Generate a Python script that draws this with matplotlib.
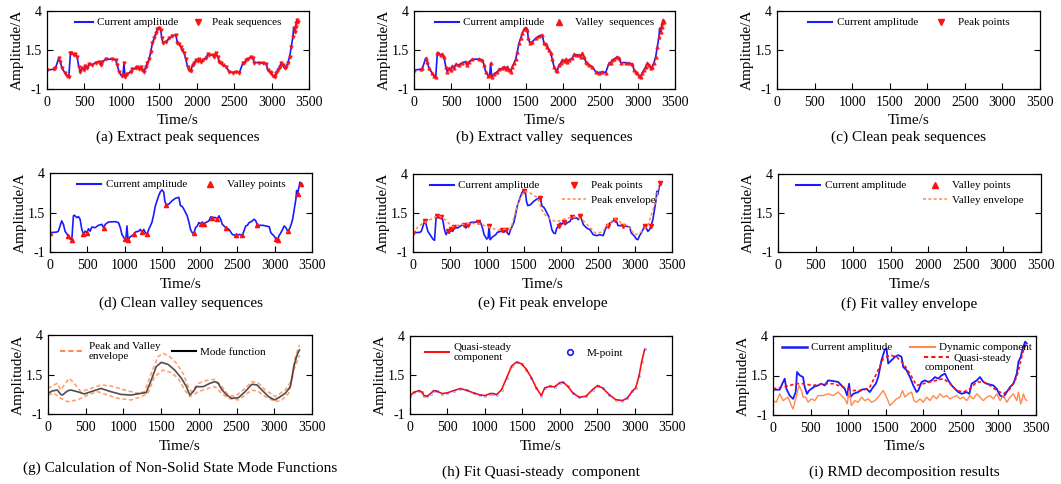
import matplotlib
matplotlib.use('Agg')
from matplotlib import pyplot as plt
from matplotlib.lines import Line2D

plt.rcParams['font.family'] = ['Liberation Serif', 'DejaVu Serif']

# ---- data ----
# current amplitude (panels a-e)
t_cur = [0, 89, 112, 156, 179, 201, 246, 268, 291, 313, 326, 358, 380, 402, 425, 447, 469, 492,
         514, 536, 559, 603, 648, 693, 715, 738, 782, 872, 916, 939, 961, 997, 1015, 1028, 1042,
         1073, 1118, 1140, 1185, 1207, 1229, 1252, 1274, 1296, 1319, 1341, 1363, 1386, 1408, 1430,
         1453, 1475, 1497, 1520, 1533, 1551, 1587, 1632, 1676, 1721, 1743, 1766, 1788, 1810, 1833,
         1855, 1877, 1900, 1922, 1944, 1967, 1989, 2012, 2034, 2056, 2079, 2123, 2146, 2168, 2213,
         2235, 2257, 2280, 2302, 2324, 2347, 2391, 2436, 2481, 2526, 2570, 2615, 2637, 2660, 2682,
         2727, 2749, 2771, 2838, 2883, 2928, 2950, 2973, 2995, 3017, 3040, 3062, 3084, 3107, 3129,
         3151, 3174, 3196, 3218, 3241, 3263, 3285, 3294, 3308, 3321, 3330, 3339, 3353]
amp_cur = [0.22, 0.26, 0.32, 0.97, 0.75, 0.32, 0.00, -0.17, -0.25, 1.29, 1.33, 1.18, 1.24, 1.07,
           0.43, 0.11, 0.32, 0.22, 0.47, 0.32, 0.58, 0.54, 0.69, 0.75, 0.54, 0.75, 0.90, 0.92,
           0.86, 0.54, 0.11, -0.17, -0.10, 0.65, -0.21, -0.04, 0.11, 0.26, 0.32, 0.43, 0.26, 0.43,
           0.22, 0.11, 0.43, 0.65, 0.90, 1.39, 1.93, 2.25, 2.57, 2.82, 2.93, 2.78, 2.25, 1.97,
           2.03, 2.25, 2.40, 2.46, 1.93, 1.88, 1.71, 1.50, 1.29, 0.90, 0.43, 0.22, 0.18, 0.54,
           0.65, 0.86, 0.79, 0.90, 0.75, 0.86, 0.97, 1.22, 1.18, 1.18, 1.07, 1.29, 1.07, 0.75,
           0.65, 0.54, 0.43, 0.11, 0.05, 0.11, 0.05, 0.65, 0.69, 0.86, 0.90, 1.07, 0.97, 0.69,
           0.69, 0.65, 0.60, 0.22, 0.11, 0.00, -0.17, -0.21, 0.05, 0.22, 0.43, 0.65, 0.54, 0.32,
           0.43, 0.69, 1.07, 1.71, 2.35, 2.89, 2.68, 3.00, 3.21, 3.42, 3.32]

peak_t = [0, 156, 326, 380, 469, 514, 559, 693, 738, 872, 1028, 1207, 1252, 1497, 1721, 1967,
          2034, 2146, 2257, 2637, 2727, 2838, 3129, 3218, 3339]
peak_v = [0.22, 0.97, 1.33, 1.24, 0.32, 0.47, 0.58, 0.75, 0.75, 0.92, 0.65, 0.43, 0.43, 2.93,
          2.46, 0.65, 0.90, 1.22, 1.29, 0.69, 1.07, 0.69, 0.65, 0.69, 3.42]

valley_t = [0, 246, 291, 447, 492, 715, 997, 1042, 1118, 1229, 1296, 1551, 1922, 2012, 2056,
            2168, 2235, 2347, 2481, 2570, 2771, 3017, 3040, 3174, 3308, 3353]
valley_v = [0.22, 0.00, -0.25, 0.11, 0.22, 0.54, -0.17, -0.21, 0.11, 0.26, 0.11, 1.97, 0.18,
            0.79, 0.75, 1.18, 1.07, 0.54, 0.05, 0.05, 0.69, -0.17, -0.21, 0.32, 2.68, 3.32]

# peak envelope (e)
t_penv = [0, 66, 132, 220, 309, 353, 441, 529, 617, 750, 882, 1014, 1147, 1323, 1411, 1499, 1588,
          1676, 1764, 1852, 1940, 2073, 2205, 2293, 2381, 2470, 2558, 2646, 2734, 2822, 2911, 2999,
          3087, 3175, 3263, 3330]
v_penv = [0.19, 0.62, 0.83, 1.05, 1.26, 1.31, 1.05, 0.62, 0.72, 0.83, 0.83, 0.62, 0.40, 0.51,
          2.00, 2.90, 2.77, 2.50, 1.48, 1.10, 0.94, 1.16, 1.26, 1.05, 0.62, 0.19, 0.29, 0.83, 1.12,
          0.83, 0.62, 0.10, 0.30, 0.72, 2.00, 3.35]

# mode function and envelopes (g)
t_mode = [0, 58, 124, 169, 191, 258, 302, 391, 480, 569, 702, 836, 969, 1102, 1235, 1302, 1369,
          1435, 1502, 1591, 1680, 1769, 1835, 1880, 1924, 1969, 2058, 2146, 2213, 2258, 2302, 2369,
          2435, 2524, 2613, 2702, 2769, 2835, 2924, 3004, 3058, 3146, 3213, 3258, 3302, 3333]
v_mode = [0.31, 0.46, 0.52, 0.24, 0.20, 0.46, 0.52, 0.41, 0.27, 0.41, 0.62, 0.41, 0.24, 0.20,
          0.31, 0.35, 1.15, 2.00, 2.27, 2.14, 1.78, 1.26, 0.73, 0.20, 0.41, 0.73, 0.73, 0.94, 1.05,
          0.94, 0.56, 0.20, -0.01, 0.03, 0.41, 0.88, 0.84, 0.52, 0.10, -0.11, 0.03, 0.31, 0.73,
          2.00, 2.73, 3.05]
t_up = [0, 80, 124, 169, 280, 347, 436, 569, 702, 836, 1013, 1191, 1280, 1369, 1458, 1524, 1613,
        1702, 1791, 1858, 1902, 1991, 2124, 2213, 2302, 2391, 2480, 2613, 2702, 2791, 2880, 3013,
        3146, 3235, 3280, 3333]
v_up = [0.62, 0.84, 0.94, 0.52, 1.26, 0.94, 0.41, 0.62, 0.84, 0.77, 0.52, 0.31, 0.41, 1.57, 2.63,
        2.84, 2.63, 2.21, 1.57, 0.73, 0.41, 0.94, 1.15, 1.19, 0.73, 0.20, 0.10, 0.62, 1.05, 0.94,
        0.52, 0.10, 0.52, 1.15, 2.63, 3.37]
t_low = [0, 80, 169, 258, 391, 524, 658, 791, 924, 1102, 1235, 1324, 1413, 1524, 1635, 1724, 1813,
         1880, 1924, 1991, 2124, 2213, 2302, 2391, 2524, 2613, 2702, 2791, 2880, 3013, 3102, 3191,
         3258, 3302, 3333]
v_low = [0.20, 0.31, -0.01, -0.22, -0.11, 0.20, 0.41, 0.20, -0.01, -0.11, 0.10, 0.31, 1.36, 1.78,
         1.62, 1.26, 0.52, 0.10, 0.20, 0.41, 0.62, 0.73, 0.31, -0.01, -0.11, 0.20, 0.52, 0.41,
         0.10, -0.22, -0.11, 0.31, 1.78, 2.31, 2.73]

# quasi-steady component (h)
t_qs = [0, 53, 119, 164, 186, 230, 274, 318, 362, 429, 495, 583, 672, 760, 849, 937, 1003, 1070,
        1114, 1158, 1224, 1291, 1357, 1423, 1490, 1556, 1622, 1688, 1755, 1799, 1865, 1932, 1998,
        2042, 2108, 2175, 2263, 2351, 2440, 2506, 2572, 2661, 2749, 2838, 2904, 2970, 3014, 3059,
        3094, 3134]
v_qs = [0.18, 0.39, 0.50, 0.39, 0.18, 0.14, 0.31, 0.50, 0.46, 0.31, 0.35, 0.50, 0.63, 0.52, 0.35,
        0.22, 0.18, 0.31, 0.31, 0.24, 0.57, 1.32, 2.07, 2.33, 2.22, 1.85, 1.32, 0.67, 0.18, 0.67,
        0.78, 0.74, 1.00, 1.04, 0.78, 0.35, 0.07, 0.14, 0.57, 0.82, 0.67, 0.24, -0.08, -0.14, 0.03,
        0.46, 0.67, 1.42, 2.33, 3.14]

# decomposition result (i)
t_i = [0, 89, 124, 156, 178, 222, 267, 302, 320, 356, 400, 422, 453, 480, 511, 556, 600, 644, 689,
       733, 800, 867, 911, 955, 987, 1013, 1031, 1067, 1133, 1178, 1244, 1289, 1333, 1369, 1400,
       1444, 1489, 1511, 1533, 1578, 1622, 1667, 1711, 1733, 1778, 1822, 1867, 1911, 1933, 1978,
       2022, 2067, 2111, 2155, 2200, 2244, 2289, 2333, 2378, 2422, 2466, 2511, 2578, 2613, 2644,
       2711, 2755, 2800, 2844, 2933, 2977, 3022, 3066, 3111, 3155, 3200, 3244, 3266, 3297, 3324,
       3355, 3377]
amp_i = [0.60, 0.60, 0.98, 1.30, 0.66, 0.23, 0.02, 0.45, 1.72, 1.51, 1.40, 0.77, 0.34, 0.55, 0.66,
         0.81, 0.87, 0.98, 0.87, 1.19, 1.15, 1.09, 0.87, 0.66, 0.23, 0.98, 0.13, 0.34, 0.45, 0.60,
         0.66, 0.45, 0.77, 0.98, 1.40, 2.47, 3.15, 3.21, 2.26, 2.47, 2.68, 2.79, 2.68, 2.04, 1.83,
         1.40, 0.87, 0.45, 0.55, 1.09, 1.19, 1.09, 1.19, 1.40, 1.30, 1.51, 1.62, 1.19, 0.87, 0.66,
         0.45, 0.34, 0.45, 0.34, 0.98, 1.19, 1.40, 1.09, 0.98, 0.87, 0.66, 0.23, 0.13, 0.45, 0.77,
         0.98, 1.62, 2.36, 2.68, 3.21, 3.64, 3.53]
t_qs_i = [0, 133, 222, 311, 400, 533, 667, 800, 933, 1067, 1200, 1289, 1378, 1467, 1556, 1644,
          1733, 1822, 1911, 2000, 2089, 2178, 2267, 2356, 2444, 2533, 2622, 2711, 2800, 2889, 2978,
          3067, 3155, 3244, 3333, 3377]
v_qs_i = [0.66, 0.77, 0.87, 0.98, 0.98, 0.87, 0.98, 0.98, 0.77, 0.55, 0.55, 0.77, 1.62, 2.57, 2.79,
          2.68, 2.26, 1.62, 0.87, 0.98, 1.09, 1.19, 1.30, 0.98, 0.55, 0.45, 0.66, 1.09, 1.09, 0.87,
          0.55, 0.34, 0.66, 1.40, 3.11, 3.57]
t_dyn = [0, 44, 89, 133, 200, 244, 267, 302, 347, 378, 400, 436, 467, 511, 556, 600, 667, 733, 800,
         867, 911, 955, 987, 1013, 1044, 1089, 1133, 1178, 1222, 1267, 1311, 1356, 1400, 1467, 1511,
         1556, 1600, 1644, 1689, 1724, 1756, 1800, 1844, 1876, 1911, 1956, 2000, 2044, 2089, 2133,
         2178, 2222, 2267, 2311, 2356, 2400, 2444, 2489, 2533, 2578, 2622, 2667, 2711, 2755, 2800,
         2844, 2889, 2933, 2978, 3022, 3067, 3111, 3155, 3200, 3244, 3266, 3297, 3333, 3355, 3377]
v_dyn = [-0.09, -0.19, 0.34, -0.09, 0.13, -0.40, -0.62, 0.02, 0.87, 0.55, 0.13, 0.13, -0.19, 0.02,
         -0.09, 0.23, 0.23, 0.34, 0.23, 0.45, 0.23, 0.02, -0.30, 0.55, -0.40, -0.09, -0.19, 0.13,
         -0.09, 0.02, -0.19, -0.09, 0.13, 0.55, 0.13, -0.40, -0.19, 0.02, 0.13, 0.55, 0.13, 0.34,
         0.45, -0.09, -0.19, 0.02, -0.19, 0.13, -0.09, 0.23, 0.02, 0.34, 0.13, 0.23, 0.02, 0.13,
         0.23, 0.02, 0.13, -0.09, 0.23, 0.02, 0.34, 0.13, -0.09, 0.13, 0.23, 0.02, 0.34, -0.09,
         0.23, -0.19, 0.13, 0.34, -0.09, 0.45, -0.30, 0.34, 0.02, -0.09]

captions = ['(a) Extract peak sequences', '(b) Extract valley  sequences', '(c) Clean peak sequences',
            '(d) Clean valley sequences', '(e) Fit peak envelope', '(f) Fit valley envelope',
            '(g) Calculation of Non-Solid State Mode Functions', '(h) Fit Quasi-steady  component',
            '(i) RMD decomposition results']

BLUE = '#1a1aff'
RED = '#ff1010'
ORANGE = '#ff8a4c'

W, H = 1061, 484
fig = plt.figure(figsize=(W / 100, H / 100), dpi=100)

# axes boxes in pixels: left, top, right, bottom
boxes = [(47, 11, 309, 89), (414, 11, 675, 89), (777, 11, 1040, 89),
         (50, 173, 312, 252), (413, 174, 672, 252), (778, 174, 1041, 252),
         (48, 335, 312, 414), (410, 336, 672, 414), (773, 336, 1036, 415)]
cap_y = [137, 137, 137, 303, 303, 304, 468, 472, 472]

axs = []
for k, (l, t, r, b) in enumerate(boxes):
    ax = fig.add_axes([l / W, 1 - b / H, (r - l) / W, (b - t) / H])
    ax.set_xlim(0, 3500)
    ax.set_ylim(-1, 4)
    ax.set_xticks(range(0, 3501, 500))
    ax.set_yticks([-1, 1.5, 4])
    ax.set_yticklabels(['-1', '1.5', '4'])
    ax.tick_params(direction='in', right=True, length=4.5, width=0.8, labelsize=10)
    ax.tick_params(axis='x', pad=5)
    ax.set_xlabel('Time/s', fontsize=11, labelpad=4)
    ax.set_ylabel('Amplitude/A', fontsize=11, labelpad=1)
    for s in ax.spines.values():
        s.set_linewidth(0.9)
    fig.text((l + r) / 2 / W, 1 - cap_y[k] / H, captions[k], ha='center', va='center', fontsize=11)
    axs.append(ax)

leg_kw = dict(loc='upper center', frameon=False, fontsize=8, ncol=2, handlelength=2.2,
              columnspacing=1.0, borderaxespad=0.2, handletextpad=0.4, labelspacing=0.1)
blank = Line2D([], [], color='none', label=' ')

# (a)
ax = axs[0]
ax.plot(t_cur, amp_cur, color=BLUE, lw=1.2)
ax.plot(t_cur, amp_cur, color=RED, lw=0, marker='v', ms=2.2, alpha=0.85)
ax.legend([Line2D([], [], color=BLUE, lw=1.5), Line2D([], [], color=RED, lw=0, marker='v', ms=4)],
          ['Current amplitude', 'Peak sequences'], **dict(leg_kw, handlelength=1.6))

# (b)
ax = axs[1]
ax.plot(t_cur, amp_cur, color=BLUE, lw=1.2)
ax.plot(t_cur, amp_cur, color=RED, lw=0, marker='^', ms=2.2, alpha=0.8)
ax.legend([Line2D([], [], color=BLUE, lw=1.5), Line2D([], [], color=RED, lw=0, marker='^', ms=4)],
          ['Current amplitude', 'Valley  sequences'], **dict(leg_kw, columnspacing=0.3, handletextpad=0.3))

# (c)
ax = axs[2]
ax.legend([Line2D([], [], color=BLUE, lw=1.5), Line2D([], [], color=RED, lw=0, marker='v', ms=4)],
          ['Current amplitude', 'Peak points'], **leg_kw)

# (d)
ax = axs[3]
ax.plot(t_cur, amp_cur, color=BLUE, lw=1.2)
ax.plot(valley_t, valley_v, color=RED, lw=0, marker='^', ms=3)
ax.legend([Line2D([], [], color=BLUE, lw=1.5), Line2D([], [], color=RED, lw=0, marker='^', ms=4)],
          ['Current amplitude', 'Valley points'], **leg_kw)

# (e)
ax = axs[4]
ax.plot(t_cur, amp_cur, color=BLUE, lw=1.2)
ax.plot(peak_t, peak_v, color=RED, lw=0, marker='v', ms=3)
ax.plot(t_penv, v_penv, color=ORANGE, lw=1.1, ls=(0, (2, 1.5)))
ax.legend([Line2D([], [], color=BLUE, lw=1.5), blank,
           Line2D([], [], color=RED, lw=0, marker='v', ms=4),
           Line2D([], [], color=ORANGE, lw=1.1, ls=(0, (2, 1.5)))],
          ['Current amplitude', ' ', 'Peak points', 'Peak envelope'],
          **dict(leg_kw, labelspacing=0.45, columnspacing=2.0))

# (f)
ax = axs[5]
ax.legend([Line2D([], [], color=BLUE, lw=1.5), blank,
           Line2D([], [], color=RED, lw=0, marker='^', ms=4),
           Line2D([], [], color=ORANGE, lw=1.1, ls=(0, (2, 1.5)))],
          ['Current amplitude', ' ', 'Valley points', 'Valley envelope'],
          **dict(leg_kw, labelspacing=0.45, columnspacing=1.5))

# (g)
ax = axs[6]
ax.plot(t_up, v_up, color=ORANGE, lw=1.2, ls=(0, (2.5, 1.5)), alpha=0.8)
ax.plot(t_low, v_low, color=ORANGE, lw=1.2, ls=(0, (2.5, 1.5)), alpha=0.8)
ax.plot(t_mode, v_mode, color='#303030', lw=1.2, alpha=0.85)
ax.legend([Line2D([], [], color=ORANGE, lw=1.5, ls=(0, (2.5, 1.5))), Line2D([], [], color='black', lw=1.5)],
          ['Peak and Valley\nenvelope', 'Mode function'],
          **dict(leg_kw, loc='upper left', bbox_to_anchor=(0.02, 1.0)))

# (h)
ax = axs[7]
ax.plot(t_qs, v_qs, color=RED, lw=1.2)
ax.plot(t_qs, v_qs, color=BLUE, lw=0, marker='o', ms=1.6, mfc='none', mew=0.4, alpha=0.6)
ax.legend([Line2D([], [], color=RED, lw=1.5),
           Line2D([], [], color=BLUE, lw=0, marker='o', ms=4, mfc='none', mew=1.2)],
          ['Quasi-steady\ncomponent', 'M-point'],
          **dict(leg_kw, loc='upper left', bbox_to_anchor=(0.03, 1.0), columnspacing=4.2))

# (i)
ax = axs[8]
ax.plot(t_i, amp_i, color=BLUE, lw=1.3)
ax.plot(t_dyn, v_dyn, color=ORANGE, lw=1.0)
ax.plot(t_qs_i, v_qs_i, color=RED, lw=1.2, ls=(0, (2, 1.5)))
leg1 = ax.legend([Line2D([], [], color=BLUE, lw=1.8), Line2D([], [], color=ORANGE, lw=1.5)],
                 ['Current amplitude', 'Dynamic component'],
                 **dict(leg_kw, loc='upper left', bbox_to_anchor=(0.01, 1.0), columnspacing=1.6))
ax.add_artist(leg1)
ax.legend([Line2D([], [], color=RED, lw=1.5, ls=(0, (2, 1.5)))], ['Quasi-steady'],
          **dict(leg_kw, loc='upper left', bbox_to_anchor=(0.55, 0.87), ncol=1))
ax.text(0.577, 0.60, 'component', transform=ax.transAxes, fontsize=8, va='center', ha='left')

fig.savefig('out.png', dpi=100)
